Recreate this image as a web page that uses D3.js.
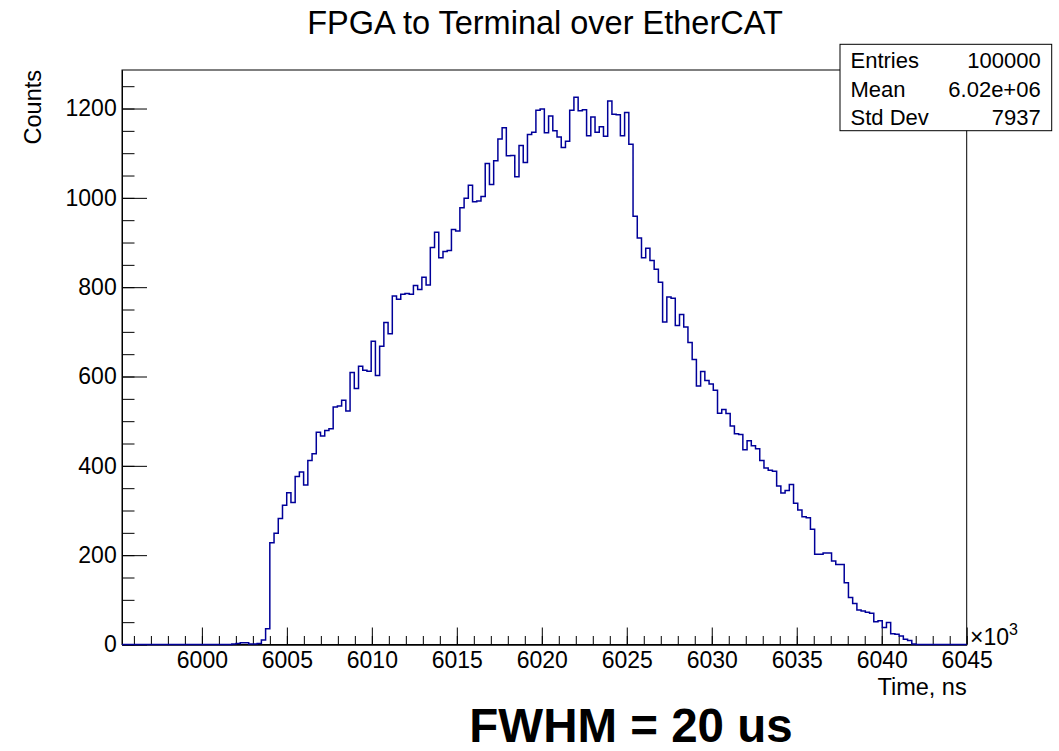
<!DOCTYPE html>
<html>
  <head>
    <meta charset="utf-8">
    <title>FPGA to Terminal over EtherCAT</title>
    <script type="text/javascript" src="https://d3js.org/d3.v7.min.js"></script>
    <style>
      body { margin: 0; background: #fff; }
      text { font-family: "Liberation Sans", Arial, sans-serif; }
    </style>
  </head>

  <body>
    <script>

    // histogram: 200 bins between 5995.3e3 and 6045e3 ns
    var xMin = 5995.3, xMax = 6045, nBins = 200;
    var binCounts = [
      0, 0, 0, 0, 0, 0, 0, 0, 0, 0, 0, 0, 0, 0, 0, 0, 0, 0, 0, 0, 0, 0, 0, 0, 0, 0,
      1, 2, 4, 4, 1, 1, 2, 10, 35,
      228, 249, 282, 312, 340, 318, 376, 386, 357, 412,
      427, 475, 467, 479, 483, 532, 534, 547, 523, 609,
      573, 623, 614, 612, 679, 602, 668, 721, 696, 780,
      773, 784, 786, 784, 804, 795, 822, 805, 889, 923,
      866, 880, 882, 929, 926, 978, 999, 1028, 991, 993,
      1003, 1077, 1030, 1083, 1132, 1157, 1094, 1095, 1047, 1117,
      1079, 1142, 1147, 1196, 1199, 1146, 1183, 1150, 1136, 1113,
      1127, 1196, 1225, 1195, 1197, 1139, 1181, 1147, 1159, 1138,
      1217, 1187, 1186, 1139, 1191, 1120, 959, 910, 866, 887,
      860, 840, 811, 722, 778, 775, 714, 739, 711, 676,
      638, 579, 611, 591, 583, 569, 518, 526, 517, 489,
      472, 470, 436, 456, 445, 438, 412, 395, 390, 388,
      355, 339, 345, 358, 316, 301, 286, 284, 258, 202,
      202, 205, 205, 187, 179, 179, 138, 105, 92, 77,
      75, 72, 70, 51, 53, 38, 49, 24, 23, 19,
      12, 9, 1,
      0, 0, 0, 0, 0, 0, 0, 0, 0, 0, 0, 0
    ];

    var xMajorTicks = [6000, 6005, 6010, 6015, 6020, 6025, 6030, 6035, 6040, 6045];
    var yMajorTicks = [0, 200, 400, 600, 800, 1000, 1200];
    var statNames = ["Entries", "Mean", "Std Dev"];
    var statValues = ["100000", "6.02e+06", "7937"];

    var width = 1059, height = 751;
    var frame = {left: 122, right: 966.7, top: 70, bottom: 644.5};
    var yMax = 1.05 * d3.max(binCounts);

    var x = d3.scaleLinear().domain([xMin, xMax]).range([frame.left, frame.right]);
    var y = d3.scaleLinear().domain([0, yMax]).range([frame.bottom, frame.top]);

    var xMinorTicks = d3.range(5996, 6046, 1);
    var yMinorTicks = d3.range(0, 1251, 50);

    var svg = d3.select("body").append("svg")
                .attr("width", width)
                .attr("height", height);

    // frame
    svg.append("rect")
       .attr("x", frame.left).attr("y", frame.top)
       .attr("width", frame.right - frame.left)
       .attr("height", frame.bottom - frame.top)
       .attr("fill", "none").attr("stroke", "#000").attr("stroke-width", 1);

    // x axis, ticks pointing inward
    var gx = svg.append("g").attr("transform", "translate(0," + frame.bottom + ")");
    gx.append("g")
      .call(d3.axisBottom(x).tickValues(xMinorTicks).tickSize(-8.5).tickSizeOuter(0).tickFormat(""));
    gx.append("g")
      .call(d3.axisBottom(x).tickValues(xMajorTicks).tickSize(-17).tickSizeOuter(0).tickPadding(7.5)
              .tickFormat(d3.format("d")));

    // y axis
    var gy = svg.append("g").attr("transform", "translate(" + frame.left + ",0)");
    gy.append("g")
      .call(d3.axisLeft(y).tickValues(yMinorTicks).tickSize(-12.5).tickSizeOuter(0).tickFormat(""));
    gy.append("g")
      .call(d3.axisLeft(y).tickValues(yMajorTicks).tickSize(-25).tickSizeOuter(0).tickPadding(5.3)
              .tickFormat(d3.format("d")));

    svg.selectAll(".domain").attr("stroke", "#000");
    svg.selectAll(".tick line").attr("stroke", "#000");
    svg.selectAll(".tick text").attr("font-size", 23).attr("fill", "#000")
       .style("font-family", "'Liberation Sans', Arial, sans-serif");

    // histogram outline
    var binWidth = (xMax - xMin) / nBins;
    var pts = binCounts.map(function(c, i) { return [xMin + i * binWidth, c]; });
    pts.push([xMax, binCounts[nBins - 1]]);

    var line = d3.line()
                 .x(function(d) { return x(d[0]); })
                 .y(function(d) { return y(d[1]); })
                 .curve(d3.curveStepAfter);

    svg.append("path")
       .attr("d", line(pts))
       .attr("fill", "none")
       .attr("stroke", "#000099")
       .attr("stroke-width", 1.5);

    // titles
    svg.append("text")
       .attr("x", 545).attr("y", 34)
       .attr("text-anchor", "middle").attr("font-size", 32.5)
       .text("FPGA to Terminal over EtherCAT");

    svg.append("text")
       .attr("x", frame.right).attr("y", 695)
       .attr("text-anchor", "end").attr("font-size", 23.5)
       .text("Time, ns");

    svg.append("text")
       .attr("transform", "translate(41," + frame.top + ") rotate(-90)")
       .attr("text-anchor", "end").attr("font-size", 23.5)
       .text("Counts");

    var exp = svg.append("text")
       .attr("x", 970).attr("y", 645).attr("font-size", 23);
    exp.append("tspan").text("\u00d710");
    exp.append("tspan").attr("dy", -10).attr("font-size", 16).text("3");

    // stats box
    var box = svg.append("g");
    box.append("rect")
       .attr("x", 840).attr("y", 44.3).attr("width", 211.7).attr("height", 86.4)
       .attr("fill", "#fff").attr("stroke", "#000").attr("stroke-width", 1);
    box.selectAll("text.name").data(statNames).enter()
       .append("text").attr("class", "name")
       .attr("x", 850.5).attr("y", function(d, i) { return 68.3 + i * 28.3; })
       .attr("font-size", 22).text(function(d) { return d; });
    box.selectAll("text.val").data(statValues).enter()
       .append("text").attr("class", "val")
       .attr("x", 1040.7).attr("y", function(d, i) { return 68.3 + i * 28.3; })
       .attr("text-anchor", "end").attr("font-size", 22).text(function(d) { return d; });

    // annotation
    svg.append("text")
       .attr("x", 631).attr("y", 742)
       .attr("text-anchor", "middle").attr("font-size", 47.5).attr("font-weight", "bold")
       .text("FWHM = 20 us");

    </script>
  </body>
</html>
